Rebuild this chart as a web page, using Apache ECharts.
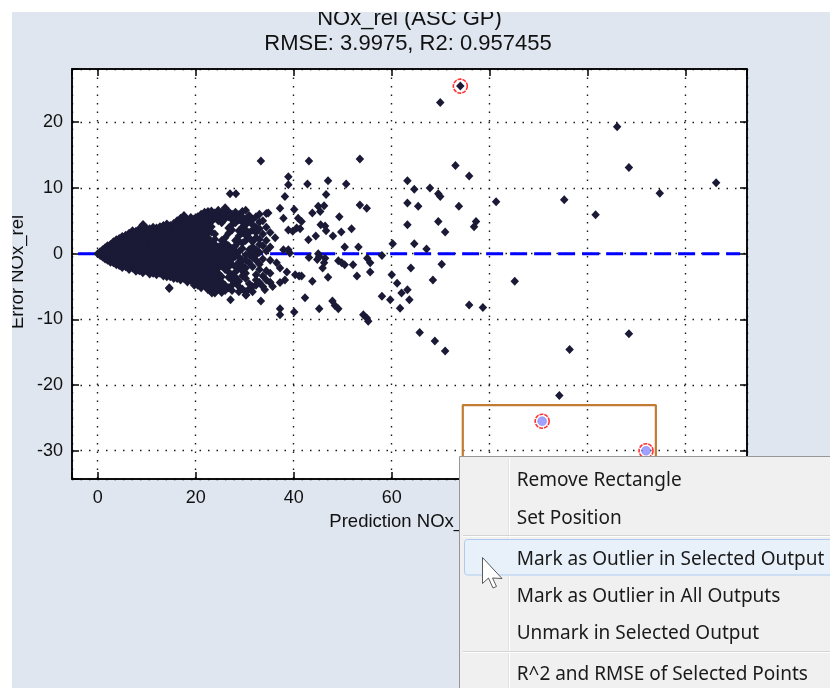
<!DOCTYPE html>
<html><head><meta charset="utf-8">
<script src="https://cdn.jsdelivr.net/npm/echarts@6/dist/echarts.min.js"></script>
<style>html,body{margin:0;padding:0;background:#fff}#c{width:830px;height:688px}</style>
</head><body><div id="c"></div>
<script>
// ---------- data ----------
const titleLines = ['NOx_rel (ASC GP)', 'RMSE: 3.9975, R2: 0.957455'];
const xAxisTitle = 'Prediction NOx_rel';
const yAxisTitle = 'Error NOx_rel';
const xRange = [-5.25, 132.5];
const yRange = [-34.3, 28.1];
const xStep = 20;
const yStep = 10;

// dense cloud near the origin: [prediction, [errors...]]
const coreColumns = [
  [0.0,[0.0]],
  [0.5,[0.3,-0.3]],
  [1.0,[0.6,0.0,-0.5]],
  [1.5,[0.9,0.3,-0.3,-0.8]],
  [2.0,[1.2,0.5,-0.2,-1.0]],
  [2.6,[1.4,0.7,0.0,-0.7,-1.3]],
  [3.2,[1.8,1.0,0.2,-0.6,-1.4]],
  [3.8,[2.1,1.3,0.5,-0.3,-1.1,-1.7]],
  [4.4,[2.3,1.5,0.7,-0.1,-0.9,-1.8]],
  [5.0,[2.6,1.8,1.0,0.2,-0.6,-1.4,-2.1]],
  [5.7,[2.8,2.0,1.2,0.4,-0.4,-1.2,-2.0]],
  [6.4,[3.1,2.3,1.5,0.7,-0.1,-0.9,-1.7,-2.4]],
  [7.1,[3.5,2.6,1.8,1.0,0.2,-0.6,-1.4,-2.2]],
  [7.8,[3.4,2.7,1.9,1.1,0.3,-0.5,-1.3,-2.1,-2.7]],
  [8.5,[3.8,3.0,2.2,1.4,0.6,-0.2,-1.0,-1.8,-2.6]],
  [9.2,[4.4,3.4,2.6,1.8,1.0,0.2,-0.6,-1.4,-2.2,-2.9]],
  [9.9,[3.9,3.0,2.2,1.4,0.6,-0.2,-1.0,-1.8,-2.6]],
  [10.6,[3.8,3.1,2.4,1.6,0.8,0.0,-0.8,-1.6,-2.4,-3.1]],
  [11.3,[4.0,3.3,2.5,1.7,0.9,0.1,-0.7,-1.5,-2.3,-3.0]],
  [12.0,[3.9,3.2,2.4,1.6,0.8,0.0,-0.8,-1.6,-2.4,-3.2]],
  [12.7,[4.1,3.4,2.6,1.8,1.0,0.2,-0.6,-1.4,-2.2,-3.0]],
  [13.4,[4.3,3.6,2.8,2.0,1.2,0.4,-0.4,-1.2,-2.0,-2.8,-3.4]],
  [14.1,[4.5,3.7,2.9,2.1,1.3,0.5,-0.3,-1.1,-1.9,-2.7,-3.5]],
  [14.6,[-5.2]],
  [14.8,[4.3,3.6,2.8,2.0,1.2,0.4,-0.4,-1.2,-2.0,-2.8,-3.5]],
  [15.5,[4.6,3.9,3.1,2.3,1.5,0.7,-0.1,-0.9,-1.7,-2.5,-3.3,-3.8]],
  [16.2,[5.0,4.2,3.4,2.6,1.8,1.0,0.2,-0.6,-1.4,-2.2,-3.0,-3.8]],
  [16.9,[5.4,4.6,3.8,3.0,2.2,1.4,0.6,-0.2,-1.0,-1.8,-2.6,-3.4,-4.0]],
  [17.6,[5.8,5.0,4.2,3.4,2.6,1.8,1.0,0.2,-0.6,-1.4,-2.2,-3.0,-3.8]],
  [18.3,[5.2,4.4,3.6,2.8,2.0,1.2,0.4,-0.4,-1.2,-2.0,-2.8,-3.6,-4.3]],
  [19.0,[5.5,4.7,3.9,3.1,2.3,1.5,0.7,-0.1,-0.9,-1.7,-2.5,-3.3,-4.1]],
  [19.7,[5.3,4.5,3.7,2.9,2.1,1.3,0.5,-0.3,-1.1,-1.9,-2.7,-3.5,-4.3,-4.8]],
  [20.4,[5.6,4.8,4.0,3.2,2.4,1.6,0.8,0.0,-0.8,-1.6,-2.4,-3.2,-4.0,-4.8]],
  [21.1,[6.0,5.2,4.4,3.6,2.8,2.0,1.2,0.4,-0.4,-1.2,-2.0,-2.8,-3.6,-4.4,-5.2]],
  [21.8,[6.3,5.5,4.7,3.9,3.1,2.3,1.5,0.7,-0.1,-0.9,-1.7,-2.5,-3.3,-4.1,-4.9]],
  [22.5,[6.4,5.6,4.8,4.0,3.2,2.4,1.6,0.8,0.0,-0.8,-1.6,-2.4,-3.2,-4.0,-4.8,-5.5]],
  [23.2,[6.5,5.7,4.9,4.1,3.3,1.7,0.9,0.1,-0.7,-1.5,-2.3,-3.1,-3.9,-4.7,-5.6]],
  [23.9,[6.2,5.4,3.0,2.2,1.4,0.6,-0.2,-1.0,-1.8,-2.6,-3.4,-4.2,-5.0,-6.0]],
  [24.6,[6.6,5.8,5.0,1.0,0.2,-0.6,-1.4,-2.2,-3.0,-3.8,-4.6,-5.4]],
  [25.3,[6.3,5.5,4.7,2.0,1.3,0.5,-0.3,-1.1,-1.9,-3.5,-4.3,-5.1,-5.9]],
  [26.0,[7.0,6.1,5.3,2.4,1.6,0.8,0.0,-0.8,-1.6,-2.4,-4.8,-5.6]],
  [26.7,[6.4,5.6,3.9,3.1,1.2,0.4,-0.4,-1.2,-2.0,-2.8,-3.6,-5.2]],
  [27.4,[6.0,5.2,4.4,3.6,0.8,0.0,-0.8,-1.6,-3.2,-4.0,-4.8,-5.6]],
  [28.1,[6.3,5.5,4.7,2.0,1.2,0.4,-0.4,-2.0,-2.8,-3.6,-4.4]],
  [28.8,[5.9,5.1,3.5,2.7,1.9,0.3,-0.5,-1.3,-2.1,-4.2,-5.0,-5.8]],
  [29.5,[6.4,5.6,4.8,4.0,3.2,1.6,0.8,-1.0,-1.8,-2.6,-3.4,-5.4]],
  [30.2,[6.6,5.2,4.4,3.6,2.8,2.0,-0.2,-1.0,-2.2,-3.0,-3.8,-5.8,-6.3]],
  [30.9,[5.8,5.0,3.2,2.4,0.6,-0.2,-1.4,-4.6,-5.4]],
  [31.6,[5.2,4.4,3.6,1.8,1.0,0.2,-0.6,-2.0,-5.0,-5.8]],
  [32.3,[5.6,4.0,3.2,2.4,0.6,-0.2,-1.0,-3.2,-4.0,-4.8]],
  [33.0,[6.0,4.8,3.8,2.2,1.4,0.2,-1.6,-2.4,-4.4]],
  [33.7,[5.0,3.0,1.2,-0.8,-3.4,-5.0]],
  [34.4,[6.1,4.0,2.0,0.4,-2.6,-4.0]],
  [35.2,[3.2,1.0,-1.0,-3.0,-4.4]]
];

// scattered points: [prediction, error]
const sparsePoints = [
  [9.3,4.4],[14.6,-5.3],[20.7,-4.8],[23.3,-6.0],[27.1,-7.0],[30.3,-6.3],[27.0,9.1],[28.2,9.1],
  [33.3,14.1],[33.3,-7.2],[34.1,-5.5],[34.8,6.2],[35.2,-4.4],[35.7,-5.0],[36.5,-1.4],[36.2,2.4],
  [37.2,6.9],[37.9,5.4],[38.2,8.7],[38.9,11.7],[38.9,10.5],[38.9,3.6],[39.8,3.4],[40.6,3.9],
  [40.1,6.7],[40.9,5.4],[37.9,0.6],[38.9,0.6],[39.2,0.1],[37.2,-2.2],[38.6,-2.8],[40.3,-3.2],
  [41.1,-3.4],[38.2,-4.0],[37.2,-4.4],[37.2,-8.4],[37.2,-9.3],[40.1,-8.9],
  [43.1,14.1],[53.5,14.4],[42.8,10.6],[47.0,11.1],[50.7,10.6],[46.6,9.0],[53.5,7.4],[54.9,6.9],
  [45.0,7.2],[46.2,7.3],[45.4,6.4],[43.8,6.2],[41.6,4.9],[41.3,3.8],[49.3,5.6],[45.5,4.4],
  [46.4,4.2],[46.6,3.5],[44.5,2.7],[48.0,2.7],[49.7,3.3],[51.8,3.8],[43.0,2.1],[50.4,1.0],
  [53.2,1.0],[60.2,1.5],[43.1,-0.6],[45.0,0.0],[44.8,-0.9],[45.2,-0.4],[46.4,-0.7],[46.2,-1.4],
  [45.9,-2.2],[49.1,-1.1],[49.8,-1.4],[50.4,-1.7],[52.1,-1.7],[55.0,-0.7],[55.6,-1.4],[58.0,-0.3],
  [55.6,-2.8],[52.9,-3.4],[47.0,-3.6],[43.8,-4.2],[41.6,-3.4],[60.0,-3.2],[61.1,-4.5],[42.3,-6.7],
  [47.9,-7.2],[48.4,-7.9],[49.1,-8.4],[45.2,-8.4],[58.0,-6.5],[59.7,-7.0],[54.2,-9.3],[54.9,-9.8],
  [55.2,-10.3],[62.0,-6.0],
  [74.0,25.5],[69.9,23.0],[73.0,13.4],[75.8,11.8],[63.2,11.1],[64.6,9.8],[67.8,10.0],[69.5,9.1],
  [69.9,8.7],[63.2,7.7],[65.4,7.2],[73.7,7.2],[81.3,7.9],[63.2,4.4],[69.5,4.9],[70.9,3.3],
  [77.2,4.9],[76.8,4.1],[64.6,1.5],[67.1,0.7],[63.9,-2.2],[70.2,-1.6],[68.4,-4.0],[85.1,-4.2],
  [63.2,-5.5],[63.6,-7.0],[61.7,-8.3],[75.8,-7.8],[78.6,-8.2],[65.7,-12.0],[68.8,-13.3],[70.9,-14.8],
  [106.0,19.3],[108.4,13.1],[126.2,10.8],[114.7,9.2],[95.2,8.2],[101.6,5.9],[108.4,-12.2],
  [96.3,-14.6],[94.2,-21.6]
];

const outlierX = [74.0];
const outlierY = [25.5];
const selectedX = [90.7, 111.9];
const selectedY = [-25.5, -30.0];
const zeroLineX = [-4.0, 131.1];
const zeroLineY = [0, 0];
const rectX = [74.5, 74.5, 113.9, 113.9];
const rectY = [-40, -23.05, -23.05, -40];
const menuItems = ['Remove Rectangle', 'Set Position', 'Mark as Outlier in Selected Output',
  'Mark as Outlier in All Outputs', 'Unmark in Selected Output', 'R^2 and RMSE of Selected Points'];

// ---------- build ----------
const pointData = [];
coreColumns.forEach(c => c[1].forEach(y => pointData.push([c[0], y])));
sparsePoints.forEach(p => pointData.push(p));
const zip = (a, b) => a.map((v, i) => [v, b[i]]);

const FONT = '"Liberation Sans", Arial, sans-serif';
const gridLine = { show: true, lineStyle: { color: '#1a1a1a', width: 1.4, type: [1.5, 7] } };
const fmt = step => v => (Math.abs(v / step - Math.round(v / step)) < 1e-6 ? String(Math.round(v)) : '');

const chart = echarts.init(document.getElementById('c'), null, { renderer: 'canvas' });
const menuTop = 456, menuLeft = 459;
const itemY = [481, 518.5, 559.5, 597, 634, 674.5];
const cursorTip = [482.5, 557.5];
const cursorShape = [[0,0],[0,26],[6,20.5],[10.5,30.5],[14,29],[10,20.5],[19.5,21]];

const graphics = [
  { type: 'text', x: 409.5, y: 18.8, z: 50, style: { text: titleLines[0], font: '22px ' + FONT, fill: '#111', align: 'center', verticalAlign: 'middle', textAlign: 'center', textVerticalAlign: 'middle' } },
  { type: 'text', x: 408, y: 43.8, z: 50, style: { text: titleLines[1], font: '22px ' + FONT, fill: '#111', align: 'center', verticalAlign: 'middle', textAlign: 'center', textVerticalAlign: 'middle' } },
  { type: 'text', x: 407, y: 522, z: 50, style: { text: xAxisTitle, font: '18.5px ' + FONT, fill: '#111', align: 'center', verticalAlign: 'middle', textAlign: 'center', textVerticalAlign: 'middle' } },
  { type: 'text', x: 17.5, y: 272, rotation: Math.PI / 2, z: 50, style: { text: yAxisTitle, font: '18.5px ' + FONT, fill: '#111', align: 'center', verticalAlign: 'middle', textAlign: 'center', textVerticalAlign: 'middle' } },
  { type: 'rect', z: 60, shape: { x: 0, y: 0, width: 830, height: 12 }, style: { fill: '#ffffff' } },
  { type: 'rect', z: 60, shape: { x: 0, y: 0, width: 12, height: 688 }, style: { fill: '#ffffff' } },
  // context menu
  { type: 'rect', z: 70, shape: { x: menuLeft + 0.5, y: menuTop + 0.5, width: 400, height: 260 }, style: { fill: '#f0f0f0', stroke: '#979797', lineWidth: 1 } },
  { type: 'line', z: 71, shape: { x1: 508.5, y1: menuTop + 2, x2: 508.5, y2: 688 }, style: { stroke: '#e2e3e3', lineWidth: 1 } },
  { type: 'line', z: 71, shape: { x1: 509.5, y1: menuTop + 2, x2: 509.5, y2: 688 }, style: { stroke: '#ffffff', lineWidth: 1 } },
  { type: 'line', z: 71, shape: { x1: 463, y1: 535.5, x2: 830, y2: 535.5 }, style: { stroke: '#d4d4d4', lineWidth: 1 } },
  { type: 'line', z: 71, shape: { x1: 463, y1: 536.5, x2: 830, y2: 536.5 }, style: { stroke: '#ffffff', lineWidth: 1 } },
  { type: 'line', z: 71, shape: { x1: 463, y1: 651.5, x2: 830, y2: 651.5 }, style: { stroke: '#d4d4d4', lineWidth: 1 } },
  { type: 'line', z: 71, shape: { x1: 463, y1: 652.5, x2: 830, y2: 652.5 }, style: { stroke: '#ffffff', lineWidth: 1 } },
  { type: 'rect', z: 72, shape: { x: 464.5, y: 539.5, width: 400, height: 35.5, r: 3 }, style: { fill: '#e8f0fa', stroke: '#aecbef', lineWidth: 1 } }
];
menuItems.forEach((t, i) => graphics.push({
  type: 'text', x: 516.7, y: itemY[i], z: 73,
  style: { text: t, font: '19px "Noto Sans", sans-serif', fill: '#1a1a1a', align: 'left', verticalAlign: 'middle', textAlign: 'left', textVerticalAlign: 'middle' }
}));
graphics.push({
  type: 'polygon', z: 80,
  shape: { points: cursorShape.map(p => [cursorTip[0] + p[0], cursorTip[1] + p[1]]) },
  style: { fill: '#ffffff', stroke: '#5a5a5a', lineWidth: 1 }
});

const xAxisBase = {
  type: 'value', min: xRange[0], max: xRange[1], splitNumber: 7, minInterval: xStep, maxInterval: xStep,
  axisLine: { show: true, onZero: false, lineStyle: { color: '#000', width: 1.5 } },
  axisTick: { show: true, inside: true, length: 7, lineStyle: { color: '#000', width: 1.5 } }
};
const yAxisBase = {
  type: 'value', min: yRange[0], max: yRange[1], splitNumber: 6, minInterval: yStep, maxInterval: yStep,
  axisLine: { show: true, onZero: false, lineStyle: { color: '#000', width: 1.5 } },
  axisTick: { show: true, inside: true, length: 7, lineStyle: { color: '#000', width: 1.5 } }
};

chart.setOption({
  animation: false,
  backgroundColor: '#dfe6f0',
  grid: { left: 72, top: 69, right: 83, bottom: 209, show: true, backgroundColor: '#ffffff', borderColor: '#000', borderWidth: 1.5 },
  xAxis: [
    Object.assign({}, xAxisBase, { position: 'bottom', splitLine: gridLine,
      axisLabel: { show: true, fontSize: 18, fontFamily: FONT, color: '#111', margin: 10, formatter: fmt(xStep) } }),
    Object.assign({}, xAxisBase, { position: 'top', splitLine: { show: false }, axisLabel: { show: false } })
  ],
  yAxis: [
    Object.assign({}, yAxisBase, { position: 'left', splitLine: gridLine,
      axisLabel: { show: true, fontSize: 18, fontFamily: FONT, color: '#111', margin: 9, formatter: fmt(yStep) } }),
    Object.assign({}, yAxisBase, { position: 'right', splitLine: { show: false }, axisLabel: { show: false } })
  ],
  graphic: graphics,
  series: [
    { type: 'line', data: zip(zeroLineX, zeroLineY), symbol: 'none', z: 2,
      lineStyle: { color: '#0000ff', width: 3, type: [17, 7] } },
    { type: 'scatter', data: pointData, symbol: 'diamond', symbolSize: [8.5, 9], z: 3,
      itemStyle: { color: '#1b1a36', opacity: 1 } },
    { type: 'scatter', data: zip(outlierX, outlierY), symbol: 'circle', symbolSize: 14, z: 4,
      itemStyle: { color: 'rgba(0,0,0,0)', borderColor: '#ff0000', borderWidth: 1.6, borderType: [4, 1] } },
    { type: 'scatter', data: zip(selectedX, selectedY), symbol: 'circle', symbolSize: 14, z: 4,
      itemStyle: { color: 'rgba(0,0,0,0)', borderColor: '#ff0000', borderWidth: 1.6, borderType: [4, 1] } },
    { type: 'scatter', data: zip(selectedX, selectedY), symbol: 'circle', symbolSize: 9, z: 5,
      itemStyle: { color: '#8a8aff', borderColor: '#7777ee', borderWidth: 0.5 } },
    { type: 'line', data: zip(rectX, rectY), symbol: 'none', z: 6,
      lineStyle: { color: '#c27b33', width: 2.2 } }
  ]
});
</script></body></html>
